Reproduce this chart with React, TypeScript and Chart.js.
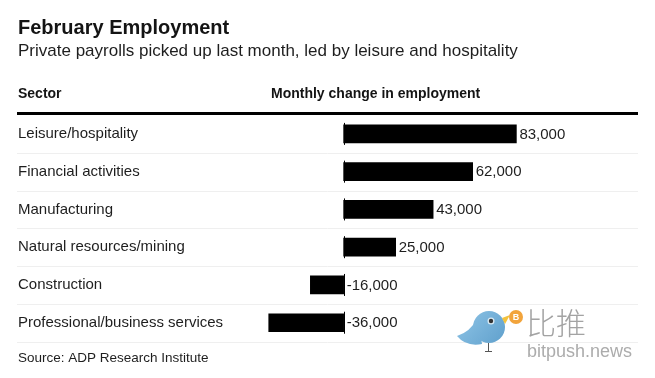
import React, { useEffect, useRef } from "react";
import { Chart, registerables } from "chart.js";

Chart.register(...registerables);

// ---- data ----
const sectors = [
  "Leisure/hospitality",
  "Financial activities",
  "Manufacturing",
  "Natural resources/mining",
  "Construction",
  "Professional/business services",
];
const changes = [83000, 62000, 43000, 25000, -16000, -36000];

const titleText = "February Employment";
const subtitleText = "Private payrolls picked up last month, led by leisure and hospitality";
const sectorHeader = "Sector";
const valueHeader = "Monthly change in employment";
const sourceText = "Source: ADP Research Institute";
const watermarkCn = "比推";
const watermarkEn = "bitpush.news";

const FONT = '"Liberation Sans", Arial, Helvetica, sans-serif';
const TEXT = "#141414";

function drawWatermark(ctx: CanvasRenderingContext2D) {
  ctx.save();
  // bird tail + body
  const grad = ctx.createLinearGradient(460, 310, 505, 350);
  grad.addColorStop(0, "#8ec4e6");
  grad.addColorStop(1, "#5c9dca");
  ctx.fillStyle = grad;
  ctx.beginPath();
  ctx.moveTo(478, 318);
  ctx.quadraticCurveTo(470, 332, 457, 336);
  ctx.quadraticCurveTo(466, 347, 482, 344);
  ctx.closePath();
  ctx.fill();
  ctx.beginPath();
  ctx.arc(489, 327, 16, 0, Math.PI * 2);
  ctx.fill();
  // beak
  ctx.fillStyle = "#f3c23c";
  ctx.beginPath();
  ctx.moveTo(502, 318);
  ctx.lineTo(510, 315);
  ctx.lineTo(505, 324);
  ctx.closePath();
  ctx.fill();
  // eye
  ctx.fillStyle = "#d9e9f3";
  ctx.beginPath();
  ctx.arc(491, 321, 3.5, 0, Math.PI * 2);
  ctx.fill();
  ctx.fillStyle = "#333";
  ctx.beginPath();
  ctx.arc(491, 321, 2.2, 0, Math.PI * 2);
  ctx.fill();
  // legs
  ctx.strokeStyle = "#555";
  ctx.lineWidth = 1;
  ctx.beginPath();
  ctx.moveTo(488.5, 343);
  ctx.lineTo(488.5, 351);
  ctx.moveTo(485, 351.5);
  ctx.lineTo(492, 351.5);
  ctx.stroke();
  // coin
  ctx.fillStyle = "#f2a43c";
  ctx.beginPath();
  ctx.arc(516, 317, 7, 0, Math.PI * 2);
  ctx.fill();
  ctx.fillStyle = "#fff";
  ctx.font = `bold 9px ${FONT}`;
  ctx.textAlign = "center";
  ctx.textBaseline = "middle";
  ctx.fillText("B", 516, 317.5);
  // text
  ctx.textAlign = "left";
  ctx.textBaseline = "alphabetic";
  ctx.fillStyle = "#a3a3a3";
  ctx.font = `300 30px "Noto Sans CJK SC", sans-serif`;
  ctx.fillText(watermarkCn, 526, 334);
  ctx.fillStyle = "#acacac";
  ctx.font = `18px ${FONT}`;
  ctx.fillText(watermarkEn, 527, 357);
  ctx.restore();
}

const tablePlugin = {
  id: "tableDecor",
  beforeDatasetsDraw(chart: any) {
    const { ctx, chartArea, scales } = chart;
    const yScale = scales.y;
    const n = chart.data.labels.length;
    ctx.save();
    ctx.textAlign = "left";
    ctx.textBaseline = "alphabetic";
    ctx.fillStyle = TEXT;
    ctx.font = `bold 20px ${FONT}`;
    ctx.fillText(titleText, 18, 34);
    ctx.font = `17px ${FONT}`;
    ctx.fillStyle = "#1e1e1e";
    ctx.fillText(subtitleText, 18, 56);
    ctx.fillStyle = TEXT;
    ctx.font = `bold 14px ${FONT}`;
    ctx.fillText(sectorHeader, 18, 98);
    ctx.fillText(valueHeader, 271, 98);
    // thick rule under headers
    ctx.fillStyle = "#000";
    ctx.fillRect(17, chartArea.top - 3, 621, 3);
    // row separators
    const pitch = n > 1 ? yScale.getPixelForValue(1) - yScale.getPixelForValue(0) : 0;
    ctx.strokeStyle = "#efefef";
    ctx.lineWidth = 1;
    for (let i = 0; i < n; i++) {
      const yy = Math.round(yScale.getPixelForValue(i) + pitch / 2) + 0.5;
      ctx.beginPath();
      ctx.moveTo(17, yy);
      ctx.lineTo(638, yy);
      ctx.stroke();
    }
    // source
    ctx.fillStyle = "#1e1e1e";
    ctx.font = `13.5px ${FONT}`;
    ctx.fillText(sourceText, 18, 362);
    ctx.restore();
  },
  afterDatasetsDraw(chart: any) {
    const { ctx } = chart;
    const meta = chart.getDatasetMeta(0);
    const values = chart.data.datasets[0].data as number[];
    ctx.save();
    ctx.font = `15px ${FONT}`;
    ctx.textAlign = "left";
    ctx.textBaseline = "middle";
    meta.data.forEach((bar: any, i: number) => {
      const { x, y, base } = bar.getProps(["x", "y", "base"], true);
      // zero line tick
      ctx.fillStyle = "#000";
      ctx.fillRect(Math.round(base), y - 11, 1, 22);
      // value label
      ctx.fillStyle = "#1e1e1e";
      const end = Math.max(x, base);
      ctx.fillText(values[i].toLocaleString("en-US"), end + 3, y + 0.5);
    });
    ctx.restore();
  },
  afterDraw(chart: any) {
    drawWatermark(chart.ctx);
  },
};

export default function App() {
  const canvasRef = useRef<HTMLCanvasElement | null>(null);

  useEffect(() => {
    if (!canvasRef.current) return;
    const chart = new Chart(canvasRef.current, {
      type: "bar",
      data: {
        labels: sectors,
        datasets: [
          {
            data: changes,
            backgroundColor: "#000000",
            borderWidth: 0,
            barThickness: 18,
          },
        ],
      },
      options: {
        indexAxis: "y",
        animation: false,
        responsive: true,
        maintainAspectRatio: false,
        events: [],
        layout: { padding: { left: 18, right: 20, top: 115, bottom: 36.4 } },
        plugins: {
          legend: { display: false },
          tooltip: { enabled: false },
          title: { display: false },
        },
        scales: {
          x: {
            display: false,
            min: -45000,
            max: 140000,
          },
          y: {
            position: "left",
            grid: { display: false },
            border: { display: false },
            afterFit: (scale: any) => {
              scale.width = 232;
            },
            ticks: {
              crossAlign: "far",
              padding: 0,
              color: "#1e1e1e",
              font: { family: FONT, size: 15 },
            },
          },
        },
      },
      plugins: [tablePlugin],
    });
    return () => chart.destroy();
  }, []);

  return (
    <div style={{ position: "absolute", left: 0, top: 0, width: 655, height: 378, background: "#fff" }}>
      <canvas ref={canvasRef} />
    </div>
  );
}
